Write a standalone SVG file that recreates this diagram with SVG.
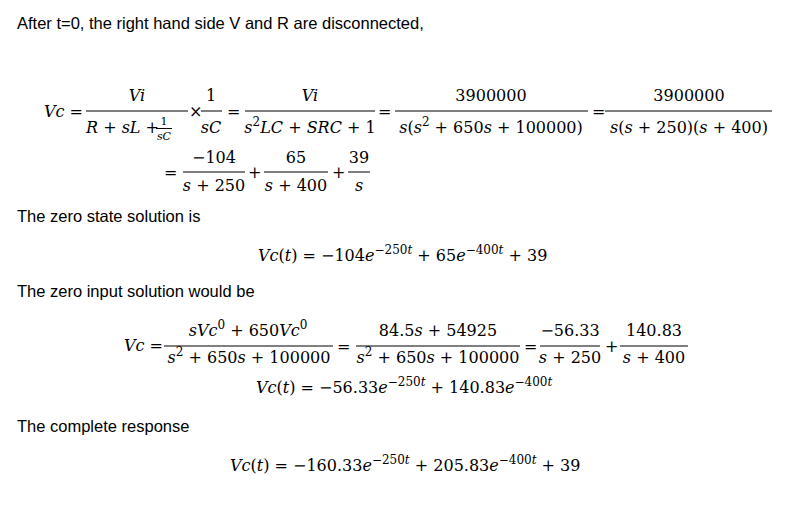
<svg xmlns="http://www.w3.org/2000/svg" width="800" height="509" viewBox="0 0 800 509">
<style>
.t{font-family:"Liberation Sans",Arial,sans-serif;font-size:16.5px;fill:#000}
.m{font-family:"DejaVu Serif","Liberation Serif",serif;font-size:16px;fill:#000}
.i{font-style:italic}
.c{text-anchor:middle}
.sm{font-size:11px}
line{stroke:#000;stroke-width:1}
</style>
<rect width="800" height="509" fill="#fff"/>
<text class="t" x="17" y="29">After t=0, the right hand side V and R are disconnected,</text>
<g id="eq1">
<text class="m" x="44" y="117"><tspan class="i">Vc</tspan> =</text>
<line x1="86" y1="111" x2="188" y2="111"/>
<text class="m c i" x="137" y="101">Vi</text>
<text class="m" x="86" y="133" font-size="14"><tspan class="i">R</tspan> + <tspan class="i">sL</tspan> +</text>
<line x1="156" y1="128.5" x2="172" y2="128.5"/>
<text class="m c sm" x="164" y="125">1</text>
<text class="m c i sm" x="164" y="140">sC</text>
<text class="m" x="189" y="117">×</text>
<line x1="201" y1="111" x2="222" y2="111"/>
<text class="m c" x="211" y="101">1</text>
<text class="m c i" x="211" y="133">sC</text>
<text class="m" x="227" y="117">=</text>
<line x1="245" y1="111" x2="375" y2="111"/>
<text class="m c i" x="310" y="101">Vi</text>
<text class="m c" x="310" y="133"><tspan class="i">s</tspan><tspan dy="-7" font-size="12">2</tspan><tspan dy="7" class="i">LC</tspan> + <tspan class="i">SRC</tspan> + 1</text>
<text class="m" x="378" y="117">=</text>
<line x1="395" y1="111" x2="588" y2="111"/>
<text class="m c" x="491" y="101">3900000</text>
<text class="m c" x="491" y="133"><tspan class="i">s</tspan>(<tspan class="i">s</tspan><tspan dy="-7" font-size="12">2</tspan><tspan dy="7"> + 650</tspan><tspan class="i">s</tspan> + 100000)</text>
<text class="m" x="592" y="117">=</text>
<line x1="605" y1="111" x2="772" y2="111"/>
<text class="m c" x="689" y="101">3900000</text>
<text class="m c" x="689" y="133"><tspan class="i">s</tspan>(<tspan class="i">s</tspan> + 250)(<tspan class="i">s</tspan> + 400)</text>
</g>
<g id="eq2">
<text class="m" x="164" y="178">=</text>
<line x1="183" y1="172" x2="245" y2="172"/>
<text class="m c" x="214" y="163">−104</text>
<text class="m c" x="214" y="191"><tspan class="i">s</tspan> + 250</text>
<text class="m" x="248" y="178">+</text>
<line x1="264" y1="172" x2="328" y2="172"/>
<text class="m c" x="296" y="163">65</text>
<text class="m c" x="296" y="191"><tspan class="i">s</tspan> + 400</text>
<text class="m" x="332" y="178">+</text>
<line x1="348" y1="172" x2="370" y2="172"/>
<text class="m c" x="359" y="163">39</text>
<text class="m c i" x="359" y="191">s</text>
</g>
<text class="t" x="17" y="222">The zero state solution is</text>
<g id="eq3">
<text class="m" x="258" y="261"><tspan class="i">Vc</tspan>(<tspan class="i">t</tspan>) = −104<tspan class="i">e</tspan><tspan dy="-7" font-size="12">−250<tspan class="i">t</tspan></tspan><tspan dy="7"> + 65</tspan><tspan class="i">e</tspan><tspan dy="-7" font-size="12">−400<tspan class="i">t</tspan></tspan><tspan dy="7"> + 39</tspan></text>
</g>
<text class="t" x="17" y="297">The zero input solution would be</text>
<g id="eq4">
<text class="m" x="124" y="351"><tspan class="i">Vc</tspan> =</text>
<line x1="164" y1="346" x2="333" y2="346"/>
<text class="m c" x="248" y="336"><tspan class="i">sVc</tspan><tspan dy="-7" font-size="12">0</tspan><tspan dy="7"> + 650</tspan><tspan class="i">Vc</tspan><tspan dy="-7" font-size="12">0</tspan></text>
<text class="m c" x="249" y="363"><tspan class="i">s</tspan><tspan dy="-7" font-size="12">2</tspan><tspan dy="7"> + 650</tspan><tspan class="i">s</tspan> + 100000</text>
<text class="m" x="337" y="352">=</text>
<line x1="356" y1="346" x2="520" y2="346"/>
<text class="m c" x="438" y="336">84.5<tspan class="i">s</tspan> + 54925</text>
<text class="m c" x="438" y="363"><tspan class="i">s</tspan><tspan dy="-7" font-size="12">2</tspan><tspan dy="7"> + 650</tspan><tspan class="i">s</tspan> + 100000</text>
<text class="m" x="524" y="352">=</text>
<line x1="540" y1="346" x2="600" y2="346"/>
<text class="m c" x="570" y="336">−56.33</text>
<text class="m c" x="570" y="363"><tspan class="i">s</tspan> + 250</text>
<text class="m" x="605" y="352">+</text>
<line x1="620" y1="346" x2="688" y2="346"/>
<text class="m c" x="654" y="336">140.83</text>
<text class="m c" x="654" y="363"><tspan class="i">s</tspan> + 400</text>
</g>
<g id="eq5">
<text class="m" x="256" y="393"><tspan class="i">Vc</tspan>(<tspan class="i">t</tspan>) = −56.33<tspan class="i">e</tspan><tspan dy="-7" font-size="12">−250<tspan class="i">t</tspan></tspan><tspan dy="7"> + 140.83</tspan><tspan class="i">e</tspan><tspan dy="-7" font-size="12">−400<tspan class="i">t</tspan></tspan></text>
</g>
<text class="t" x="17" y="432">The complete response</text>
<g id="eq6">
<text class="m" x="230" y="471"><tspan class="i">Vc</tspan>(<tspan class="i">t</tspan>) = −160.33<tspan class="i">e</tspan><tspan dy="-7" font-size="12">−250<tspan class="i">t</tspan></tspan><tspan dy="7"> + 205.83</tspan><tspan class="i">e</tspan><tspan dy="-7" font-size="12">−400<tspan class="i">t</tspan></tspan><tspan dy="7"> + 39</tspan></text>
</g>
</svg>
